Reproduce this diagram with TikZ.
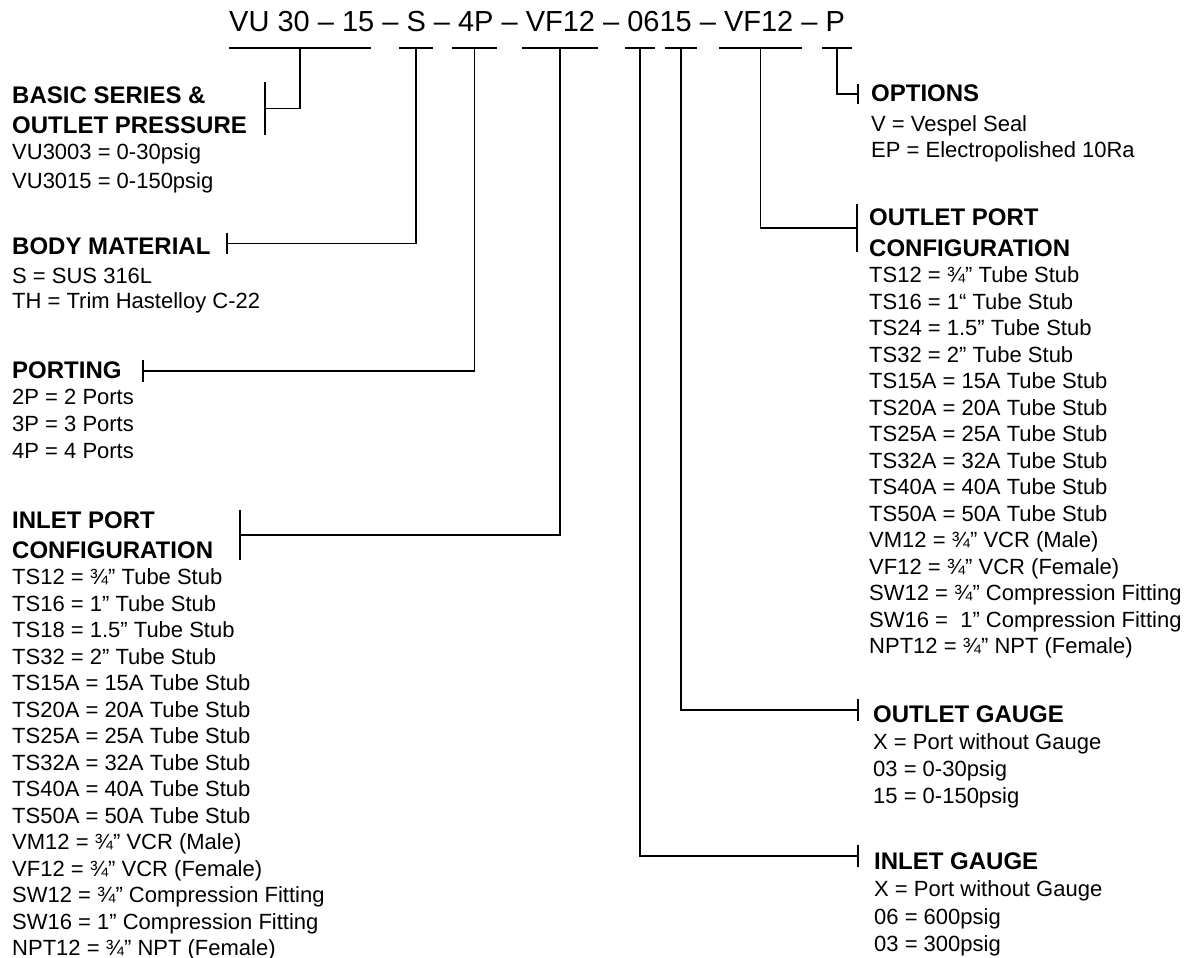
\documentclass[tikz,border=0pt]{standalone}
\usepackage{fontspec}
\setmainfont{Liberation Sans}

\tikzset{
  code/.style={font=\fontsize{29}{34}\selectfont, anchor=base west, inner sep=0},
  head/.style={font=\fontsize{24}{30}\selectfont\bfseries, anchor=base west, inner sep=0},
  item/.style={font=\fontsize{22}{26}\selectfont, anchor=base west, inner sep=0},
  wire/.style={line width=1.8pt},
}
\newcommand{\tickat}[2]{\draw[wire] ([yshift=#2]#1) -- ([yshift=-#2]#1);}

\begin{document}
\begin{tikzpicture}[x=1pt, y=-1pt]
  \fill[white] (0,0) rectangle (1200,958);
  \useasboundingbox (0,0) rectangle (1200,958);

  \node[code] (title) at (229,32) {VU 30 – 15 – S – 4P – VF12 – 0615 – VF12 – P};
  \foreach \l/\r/\n in {229/371/vu, 399/433/mat, 452/497/prt, 522/598/inp,
                        625/655/ig, 665/697/og, 719/802/outp, 822/852/opt}{
    \draw[wire] (\l,48) -- (\r,48);
    \coordinate (\n) at ({(\l+\r)/2},48);
  }

  % left column
  \node[head] (basic) at (12,103) {BASIC SERIES \&};
  \node[head] (basic2) at (12,133) {OUTLET PRESSURE};
  \node[item] at (12,159) {VU3003 = 0-30psig};
  \node[item] at (12,188) {VU3015 = 0-150psig};

  \node[head] (body) at (12,254) {BODY MATERIAL};
  \node[item] at (12,283) {S = SUS 316L};
  \node[item] at (12,308) {TH = Trim Hastelloy C-22};

  \node[head] (porting) at (12,378) {PORTING};
  \foreach \t [count=\i] in {2P = 2 Ports, 3P = 3 Ports, 4P = 4 Ports}
    \node[item] at (12,{378+26.7*\i}) {\t};

  \node[head] (inlet) at (12,528) {INLET PORT};
  \node[head] (inlet2) at (12,558) {CONFIGURATION};
  \foreach \t [count=\i] in {TS12 = ¾” Tube Stub, TS16 = 1” Tube Stub, TS18 = 1.5” Tube Stub,
      TS32 = 2” Tube Stub, TS15A = 15A Tube Stub, TS20A = 20A Tube Stub, TS25A = 25A Tube Stub,
      TS32A = 32A Tube Stub, TS40A = 40A Tube Stub, TS50A = 50A Tube Stub, VM12 = ¾” VCR (Male),
      VF12 = ¾” VCR (Female), SW12 = ¾” Compression Fitting, SW16 = 1” Compression Fitting,
      NPT12 = ¾” NPT (Female)}
    \node[item] at (12,{558+26.5*\i}) {\t};

  % right column
  \node[head] (options) at (871,102) {OPTIONS};
  \node[item] at (871,131) {V = Vespel Seal};
  \node[item] at (871,157) {EP = Electropolished 10Ra};

  \node[head] (outport) at (869,225) {OUTLET PORT};
  \node[head] (outport2) at (869,256) {CONFIGURATION};
  \foreach \t [count=\i] in {TS12 = ¾” Tube Stub, TS16 = 1“ Tube Stub, TS24 = 1.5” Tube Stub,
      TS32 = 2” Tube Stub, TS15A = 15A Tube Stub, TS20A = 20A Tube Stub, TS25A = 25A Tube Stub,
      TS32A = 32A Tube Stub, TS40A = 40A Tube Stub, TS50A = 50A Tube Stub, VM12 = ¾” VCR (Male),
      VF12 = ¾” VCR (Female), SW12 = ¾” Compression Fitting, SW16 = \ 1” Compression Fitting,
      NPT12 = ¾” NPT (Female)}
    \node[item] at (869,{256+26.5*\i}) {\t};

  \node[head] (outgauge) at (873,722) {OUTLET GAUGE};
  \foreach \t [count=\i] in {X = Port without Gauge, 03 = 0-30psig, 15 = 0-150psig}
    \node[item] at (873,{722+27*\i}) {\t};

  \node[head] (ingauge) at (874,869) {INLET GAUGE};
  \foreach \t [count=\i] in {X = Port without Gauge, 06 = 600psig, 03 = 300psig}
    \node[item] at (874,{869+27.5*\i}) {\t};

  % brackets
  \coordinate (basic-t) at (265,108.5);
  \coordinate (body-t) at (227,243.5);
  \coordinate (porting-t) at (143,371);
  \coordinate (inlet-t) at (240,535);
  \coordinate (options-t) at (858,94);
  \coordinate (outport-t) at (857,228);
  \coordinate (outgauge-t) at (858,710);
  \coordinate (ingauge-t) at (858,856);

  \draw[wire] (vu) |- (basic-t);     \tickat{basic-t}{26.5pt}
  \draw[wire] (mat) |- (body-t);     \tickat{body-t}{10.5pt}
  \draw[wire] (prt) |- (porting-t);  \tickat{porting-t}{11pt}
  \draw[wire] (inp) |- (inlet-t);    \tickat{inlet-t}{25pt}
  \draw[wire] (opt) |- (options-t);  \tickat{options-t}{10pt}
  \draw[wire] (outp) |- (outport-t); \tickat{outport-t}{24pt}
  \draw[wire] (og) |- (outgauge-t);  \tickat{outgauge-t}{11pt}
  \draw[wire] (ig) |- (ingauge-t);   \tickat{ingauge-t}{11pt}
\end{tikzpicture}
\end{document}
